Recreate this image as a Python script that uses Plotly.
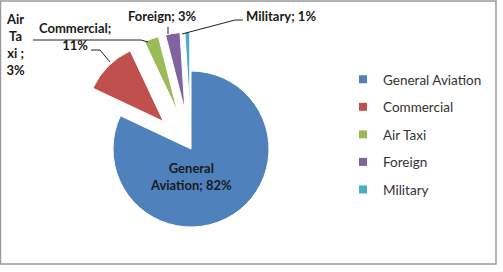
import plotly.graph_objects as go

# ---- data ----
categories = ["General Aviation", "Commercial", "Air Taxi", "Foreign", "Military"]
shares = [82, 11, 3, 3, 1]
colors = ["#4F81BD", "#C0504D", "#9BBB59", "#8064A2", "#4BACC6"]
pulls = [0, 0.5, 0.5, 0.5, 0.5]

W, H = 503, 272
FONT = "Lato"
TXT = "#1a1a1a"


def px(x):
    return x / W


def py(y):
    return 1 - y / H


fig = go.Figure()

fig.add_trace(go.Pie(
    labels=categories,
    values=shares,
    sort=False,
    direction="clockwise",
    rotation=0,
    pull=pulls,
    marker=dict(colors=colors, line=dict(color="white", width=1)),
    texttemplate=["General<br>Aviation; %{value}%", "", "", "", ""],
    textposition=["inside", "none", "none", "none", "none"],
    insidetextorientation="horizontal",
    textfont=dict(family=FONT, size=13, color=TXT, weight="bold"),
    domain=dict(x=[px(74), px(308)], y=[py(266), py(32)]),
    showlegend=False,
    hoverinfo="label+percent",
))

# legend entries (one per category, so spacing can follow the reference)
for i, (c, col) in enumerate(zip(categories, colors)):
    fig.add_trace(go.Scatter(
        x=[None], y=[None], mode="markers", name=c,
        legendgroup=f"g{i}",
        marker=dict(symbol="square", size=8, color=col),
    ))

# outside labels
labels_out = [
    (categories[2], "Air<br>Ta<br>xi ;<br>3%", 16, 45, "center"),
    (categories[1], "Commercial;<br>11%", 75, 37, "center"),
    (categories[3], "Foreign; %d%%" % shares[3], 162, 16, "center"),
    (categories[4], "Military; %d%%" % shares[4], 281, 16, "center"),
]
annotations = []
for _, text, x, y, al in labels_out:
    annotations.append(dict(
        x=px(x), y=py(y), xref="paper", yref="paper", text=text,
        showarrow=False, align=al, xanchor="center", yanchor="middle",
        font=dict(family=FONT, size=13, color=TXT, weight="bold"),
    ))

line_style = dict(color="#222222", width=1)
shapes = [
    # chart border
    dict(type="rect", xref="paper", yref="paper",
         x0=px(0.5), x1=px(496), y0=py(264), y1=py(1),
         line=dict(color="#9a9a9a", width=1.5)),
    # leader lines
    dict(type="path", xref="paper", yref="paper",
         path=f"M {px(33)} {py(40)} L {px(141)} {py(40)} L {px(148)} {py(42)}",
         line=line_style),
    dict(type="path", xref="paper", yref="paper",
         path=f"M {px(91)} {py(50)} L {px(100)} {py(50)} L {px(110)} {py(62)}",
         line=line_style),
    dict(type="path", xref="paper", yref="paper",
         path=f"M {px(168)} {py(27)} L {px(168)} {py(34)}",
         line=line_style),
    dict(type="path", xref="paper", yref="paper",
         path=f"M {px(182)} {py(34)} L {px(235)} {py(20)} L {px(243)} {py(20)}",
         line=line_style),
]

fig.update_layout(
    width=W, height=H,
    margin=dict(l=0, r=0, t=0, b=0),
    paper_bgcolor="white", plot_bgcolor="white",
    xaxis=dict(visible=False), yaxis=dict(visible=False),
    showlegend=True,
    legend=dict(
        x=px(343), y=py(64), xanchor="left", yanchor="top",
        traceorder="grouped", tracegroupgap=7,
        font=dict(family=FONT, size=13.5, color="#333333"),
        bgcolor="rgba(0,0,0,0)",
    ),
    annotations=annotations,
    shapes=shapes,
)

fig.write_html("out.html")
